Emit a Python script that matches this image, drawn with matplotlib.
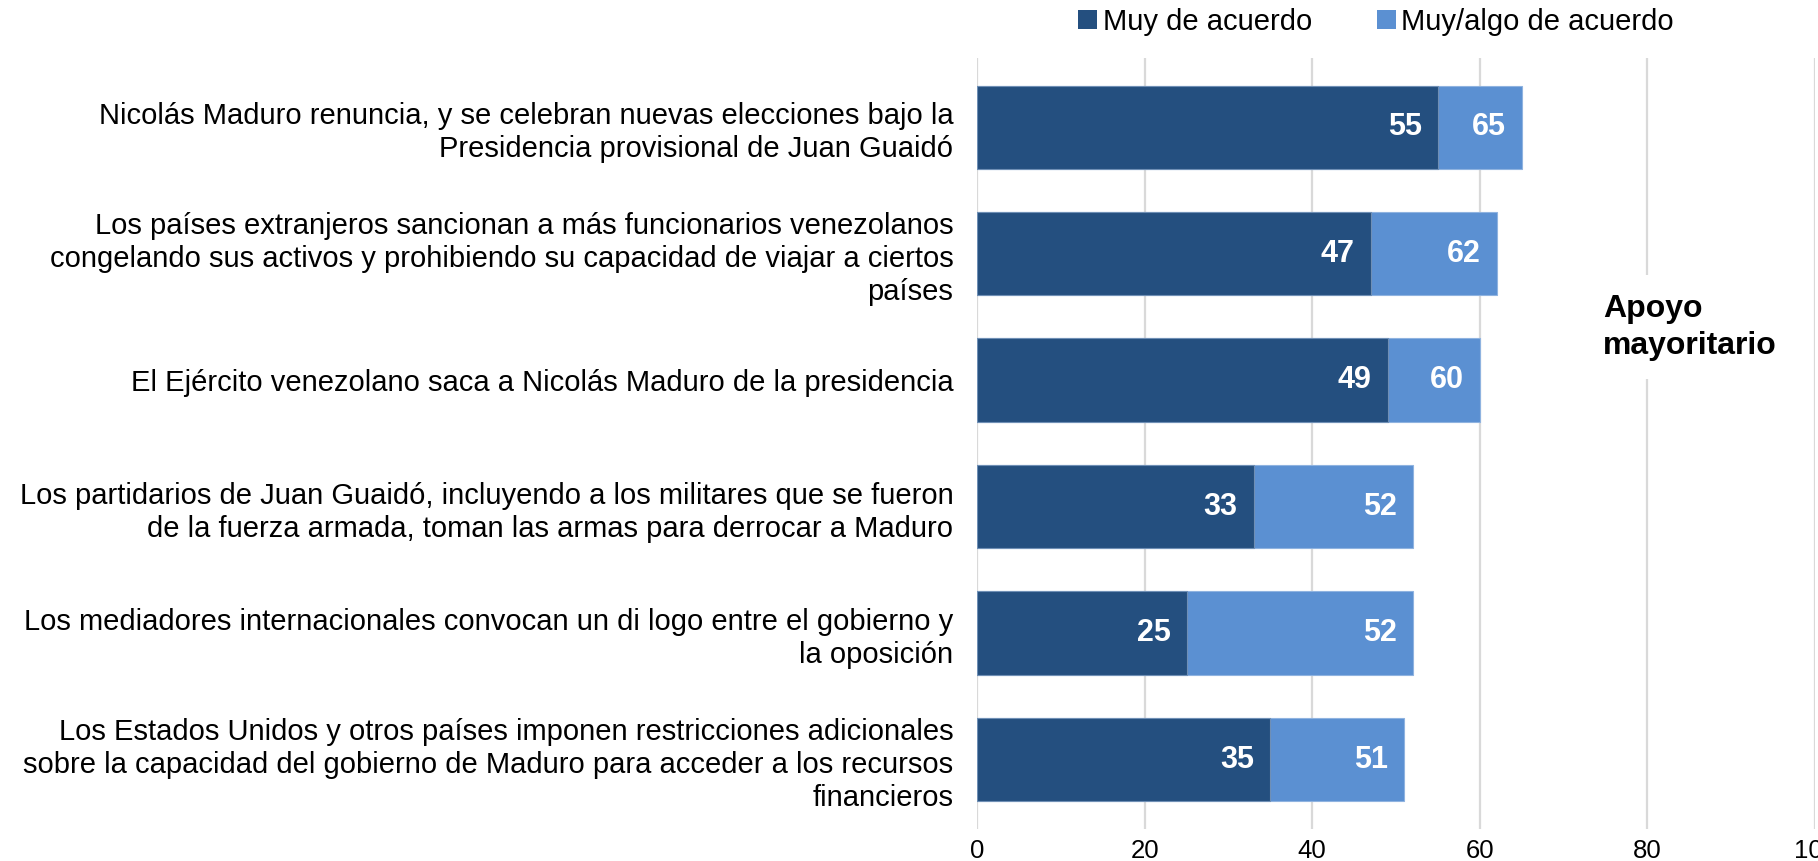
import matplotlib
matplotlib.use("Agg")
import matplotlib.pyplot as plt
from matplotlib.patches import Patch

plt.rcParams['font.family'] = ['Liberation Sans', 'DejaVu Sans']

categories = [
    "Nicolás Maduro renuncia, y se celebran nuevas elecciones bajo la\nPresidencia provisional de Juan Guaidó",
    "Los países extranjeros sancionan a más funcionarios venezolanos\ncongelando sus activos y prohibiendo su capacidad de viajar a ciertos\npaíses",
    "El Ejército venezolano saca a Nicolás Maduro de la presidencia",
    "Los partidarios de Juan Guaidó, incluyendo a los militares que se fueron\nde la fuerza armada, toman las armas para derrocar a Maduro",
    "Los mediadores internacionales convocan un di logo entre el gobierno y\nla oposición",
    "Los Estados Unidos y otros países imponen restricciones adicionales\nsobre la capacidad del gobierno de Maduro para acceder a los recursos\nfinancieros",
]
muy_de_acuerdo = [55, 47, 49, 33, 25, 35]
muy_algo_de_acuerdo = [65, 62, 60, 52, 52, 51]
series_names = ["Muy de acuerdo", "Muy/algo de acuerdo"]
xticks = [0, 20, 40, 60, 80, 100]
annotation = "Apoyo\nmayoritario"

dark = "#244F7F"
light = "#5B90D2"

fig = plt.figure(figsize=(18.18, 8.61), dpi=100)
ax = fig.add_axes([0.5374, 0.037, 0.4610, 0.896])

y = list(range(len(categories)))
ax.barh(y, muy_algo_de_acuerdo, height=0.66, color=light, edgecolor="#8FB3E0", linewidth=0.8, zorder=2)
ax.barh(y, muy_de_acuerdo, height=0.66, color=dark, edgecolor="#6F8FB5", linewidth=0.8, zorder=3)

for yi, v1, v2 in zip(y, muy_de_acuerdo, muy_algo_de_acuerdo):
    ax.annotate(str(v1), xy=(v1, yi), xytext=(-11.5, 0), textcoords="offset points",
                ha="right", va="center", color="white", fontsize=22, fontweight="bold", zorder=5)
    ax.annotate(str(v2), xy=(v2, yi), xytext=(-11.5, 0), textcoords="offset points",
                ha="right", va="center", color="white", fontsize=22, fontweight="bold", zorder=5)

ax.set_xlim(0, 100)
ax.set_ylim(len(categories) - 0.45, -0.55)
ax.set_xticks(xticks)
ax.set_xticklabels([str(t) for t in xticks], fontsize=18.5)
ax.set_yticks(y)
ax.set_yticklabels(categories, fontsize=21, linespacing=1.23)
ax.tick_params(axis="both", length=0)
ax.tick_params(axis="y", pad=17)
ax.tick_params(axis="x", pad=7)
for s in ax.spines.values():
    s.set_visible(False)
ax.grid(axis="x", color="#D9D9D9", linewidth=1.6, zorder=0)
ax.set_axisbelow(True)

ax.text(74.7, 1.58, annotation, ha="left", va="center", fontsize=23, fontweight="bold",
        linespacing=1.3, zorder=4,
        bbox=dict(facecolor="white", edgecolor="none", pad=13))

handles = [Patch(facecolor=dark), Patch(facecolor=light)]
fig.legend(handles, series_names, loc="center", bbox_to_anchor=(0.757, 0.975), ncol=2,
           frameon=False, fontsize=21, handlelength=0.65, handleheight=0.65,
           handletextpad=0.2, columnspacing=2.2)

fig.savefig("out.png", dpi=100)
